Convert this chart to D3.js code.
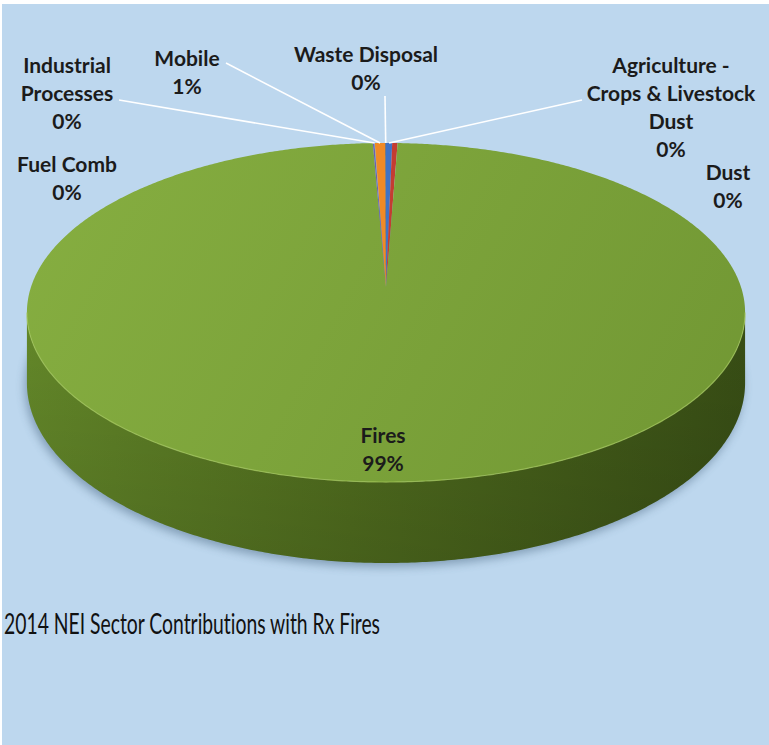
<!DOCTYPE html>
<html>
<head>
<meta charset="utf-8">
<script src="https://cdn.jsdelivr.net/npm/d3@7"></script>
<style>
  html, body { margin: 0; padding: 0; background: #ffffff; }
  svg { display: block; }
  text { font-variant-ligatures: none; }
</style>
</head>
<body>
<svg id="chart" width="769" height="745"></svg>
<script>
// Sectors in the order they are laid out clockwise from 12 o'clock
const categories = ["Agriculture - Crops & Livestock Dust", "Dust", "Fires", "Fuel Comb", "Industrial Processes", "Mobile", "Waste Disposal"];
// Share of the 2014 NEI total, percent
const shares = [0.32, 0.28, 98.72, 0.08, 0.02, 0.55, 0.03];
// Slice fill colours
const sliceColors = ["#3f73c6", "#c43c32", "#7ca43a", "#6b5fb4", "#4bacc6", "#f08a26", "#2c4d75"];
// How each sector name is broken across lines in its label
const labelLines = [
  ["Agriculture -", "Crops & Livestock", "Dust"],
  ["Dust"],
  ["Fires"],
  ["Fuel Comb"],
  ["Industrial", "Processes"],
  ["Mobile"],
  ["Waste Disposal"]
];
const title = "2014 NEI Sector Contributions with Rx Fires";

// ---- layout ----
const W = 769, H = 745;
const CX = 386, CY = 287;          // projected centre of the top face
const RX = 355, RY = 165.7;        // horizontal / depth radii of the disc
const PERSP = 0.1504;              // foreshortening of the far edge
const DEPTH = 68.8;                // thickness of the disc
const LINE_H = 28;

// label anchor (centre x, first baseline y) and leader start, per sector
const labelLayout = {
  "Agriculture - Crops & Livestock Dust": { x: 671, y: 73, leader: [582, 100] },
  "Dust": { x: 728, y: 180 },
  "Fires": { x: 383, y: 443 },
  "Fuel Comb": { x: 67, y: 172 },
  "Industrial Processes": { x: 67, y: 73, leader: [119, 100] },
  "Mobile": { x: 187, y: 66, leader: [226, 63] },
  "Waste Disposal": { x: 366, y: 62, leader: [385, 96] }
};

const svg = d3.select("#chart");
const defs = svg.append("defs");

// background panel
svg.append("rect").attr("x", 2).attr("y", 4).attr("width", W - 2).attr("height", H - 4)
  .attr("fill", "#bdd7ee");

// perspective projection of a point on the disc (theta clockwise from the back)
function proj(theta, r, z) {
  const u = r * Math.sin(theta), v = r * Math.cos(theta);
  const w = 1 + PERSP * v;
  return [CX + RX * u / w, CY - RY * v / w + z / w];
}
function rimPoints(a0, a1, z) {
  const n = Math.max(2, Math.ceil(Math.abs(a1 - a0) / (Math.PI / 360)) + 1);
  return d3.range(n).map(i => proj(a0 + (a1 - a0) * i / (n - 1), 1, z));
}
const line = d3.line().curve(d3.curveLinear);

const pie = d3.pie().sort(null).value(d => d.value).startAngle(0).endAngle(2 * Math.PI);
const data = categories.map((c, i) => ({ name: c, value: shares[i], color: sliceColors[i], lines: labelLines[i] }));
const arcs = pie(data);

// gradients
const topGrad = defs.append("linearGradient").attr("id", "topGrad")
  .attr("gradientUnits", "userSpaceOnUse").attr("x1", 80).attr("y1", 150).attr("x2", 700).attr("y2", 480);
topGrad.append("stop").attr("offset", 0).attr("stop-color", "#85ad40");
topGrad.append("stop").attr("offset", 1).attr("stop-color", "#729834");

const wallGrad = defs.append("linearGradient").attr("id", "wallGrad")
  .attr("gradientUnits", "userSpaceOnUse").attr("x1", 27).attr("y1", 0).attr("x2", 745).attr("y2", 0);
wallGrad.append("stop").attr("offset", 0).attr("stop-color", "#638729");
wallGrad.append("stop").attr("offset", 0.45).attr("stop-color", "#506d1e");
wallGrad.append("stop").attr("offset", 1).attr("stop-color", "#384e15");

const wallShade = defs.append("linearGradient").attr("id", "wallShade")
  .attr("x1", 0).attr("y1", 0).attr("x2", 0).attr("y2", 1);
wallShade.append("stop").attr("offset", 0).attr("stop-color", "#000").attr("stop-opacity", 0);
wallShade.append("stop").attr("offset", 1).attr("stop-color", "#000").attr("stop-opacity", 0.12);

const blur = defs.append("filter").attr("id", "soft").attr("x", "-10%").attr("y", "-10%").attr("width", "120%").attr("height", "130%");
blur.append("feGaussianBlur").attr("stdDeviation", 5);

// drop shadow under the disc
const base = rimPoints(0, 2 * Math.PI, DEPTH);
svg.append("path").attr("d", line(base) + "Z")
  .attr("transform", "translate(-2,4)")
  .attr("fill", "#3a5873").attr("opacity", 0.45).attr("filter", "url(#soft)");

// visible front wall (between the two silhouette tangents)
const tA = Math.acos(-PERSP), tB = 2 * Math.PI - Math.acos(-PERSP);
arcs.forEach(a => {
  const s = Math.max(a.startAngle, tA), e = Math.min(a.endAngle, tB);
  if (e <= s) return;
  const pts = rimPoints(s, e, 0).concat(rimPoints(e, s, DEPTH));
  const d = line(pts) + "Z";
  const fill = a.data.name === "Fires" ? "url(#wallGrad)" : d3.color(a.data.color).darker(0.8);
  svg.append("path").attr("d", d).attr("fill", fill);
  svg.append("path").attr("d", d).attr("fill", "url(#wallShade)");
});

// top face slices
arcs.forEach(a => {
  const pts = [proj(0, 0, 0)].concat(rimPoints(a.startAngle, a.endAngle, 0));
  svg.append("path").attr("d", line(pts) + "Z")
    .attr("fill", a.data.name === "Fires" ? "url(#topGrad)" : a.data.color);
});

// light bevel along the front rim of the top face
svg.append("path").attr("d", line(rimPoints(tA, tB, 0)))
  .attr("fill", "none").attr("stroke", "#a6c95c").attr("stroke-width", 1.2).attr("opacity", 0.7);

// leader lines from labels to their slices
arcs.forEach(a => {
  const L = labelLayout[a.data.name];
  if (!L.leader) return;
  const mid = (a.startAngle + a.endAngle) / 2;
  const end = proj(mid, 1, 0);
  svg.append("path").attr("d", line([L.leader, end]))
    .attr("fill", "none").attr("stroke", "#ffffff").attr("stroke-width", 1.6);
});

// labels: sector name and rounded share
const fmt = v => Math.round(v) + "%";
arcs.forEach(a => {
  const L = labelLayout[a.data.name];
  const lines = a.data.lines.concat([fmt(a.data.value)]);
  const g = svg.append("g").attr("transform", `translate(${L.x},${L.y})`);
  lines.forEach((t, i) => {
    g.append("text").attr("x", 0).attr("y", i * LINE_H)
      .attr("text-anchor", "middle")
      .attr("font-family", "Lato, 'Open Sans', sans-serif")
      .attr("font-weight", 700).attr("font-size", 21)
      .attr("fill", "#1b1b1b").text(t);
  });
});

// chart title
svg.append("text").attr("x", 4).attr("y", 634)
  .attr("font-family", "Lato, 'Open Sans', sans-serif")
  .attr("font-size", 28).attr("fill", "#111")
  .attr("textLength", 376).attr("lengthAdjust", "spacingAndGlyphs")
  .text(title);
</script>
</body>
</html>
